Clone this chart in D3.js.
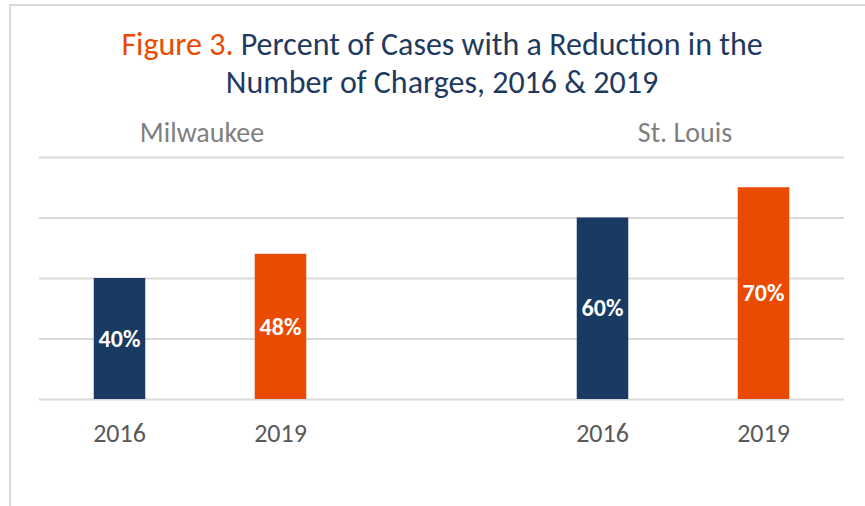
<!DOCTYPE html>
<html>
<head>
<meta charset="utf-8">
<script src="https://cdn.jsdelivr.net/npm/d3@7"></script>
<style>
  body { margin: 0; background: #fff; }
  text { font-family: Carlito, "Open Sans", Lato, sans-serif; }
</style>
</head>
<body>
<div id="graf"></div>
<script>
// datos del grafico
const ciudades = ["Milwaukee", "St. Louis"]
const anios = ["2016", "2019"]
const valores = {
  "Milwaukee": [40, 48],
  "St. Louis": [60, 70]
}
const ticksY = [0, 20, 40, 60, 80]
const colores = ["#183A63", "#EB4B00"]

const anchoTotal = 865
const altoTotal = 506
const margins = { top: 157, right: 21, bottom: 107, left: 39 }
const ancho = anchoTotal - margins.left - margins.right
const alto = altoTotal - margins.top - margins.bottom

const svg = d3.select("#graf")
  .append("svg")
  .attr("width", anchoTotal)
  .attr("height", altoTotal)

// marco del grafico
svg.append("path")
  .attr("d", `M10,${altoTotal} V5 H${anchoTotal}`)
  .attr("fill", "none")
  .attr("stroke", "#d9d9d9")
  .attr("stroke-width", 2)

// titulo
const titulo = svg.append("text")
  .attr("x", 442)
  .attr("y", 55)
  .attr("text-anchor", "middle")
  .style("font-size", "32px")
  .attr("fill", "#1F3A5F")
titulo.append("tspan").attr("fill", "#EB4B00").text("Figure 3. ")
titulo.append("tspan").text("Percent of Cases with a Reduction in the")
svg.append("text")
  .attr("x", 442)
  .attr("y", 93)
  .attr("text-anchor", "middle")
  .style("font-size", "32px")
  .attr("fill", "#1F3A5F")
  .text("Number of Charges, 2016 & 2019")

const g = svg.append("g")
  .attr("transform", `translate(${margins.left}, ${margins.top})`)

// Escaladores
const x0 = d3.scaleBand()
  .domain(ciudades)
  .range([0, ancho])
  .paddingInner(1 / 3)
  .paddingOuter(0)

const x1 = d3.scaleBand()
  .domain(anios)
  .range([0, x0.bandwidth()])
  .paddingInner(0.68)
  .paddingOuter(0.34)

const y = d3.scaleLinear()
  .domain([0, 80])
  .range([alto, 0])

// lineas de la cuadricula
g.append("g")
  .call(d3.axisLeft(y).tickValues(ticksY).tickSize(-ancho).tickFormat(""))
  .call(ax => ax.select(".domain").remove())
  .call(ax => ax.selectAll("line").attr("stroke", "#d9d9d9").attr("stroke-width", 2))

const grupos = g.selectAll(".grupo")
  .data(ciudades)
  .enter()
  .append("g")
  .attr("class", "grupo")
  .attr("transform", d => `translate(${x0(d)}, 0)`)

// nombre de la ciudad
grupos.append("text")
  .attr("x", x0.bandwidth() / 2 + 2)
  .attr("y", -15)
  .attr("text-anchor", "middle")
  .style("font-size", "28px")
  .attr("fill", "#7F7F7F")
  .text(d => d)

const barras = grupos.selectAll(".barra")
  .data(c => anios.map((a, i) => ({ ciudad: c, anio: a, valor: valores[c][i], color: colores[i] })))
  .enter()
  .append("g")
  .attr("class", "barra")

barras.append("rect")
  .attr("x", d => x1(d.anio))
  .attr("y", d => y(d.valor))
  .attr("width", x1.bandwidth())
  .attr("height", d => alto - y(d.valor))
  .attr("fill", d => d.color)

barras.append("text")
  .attr("x", d => x1(d.anio) + x1.bandwidth() / 2)
  .attr("y", d => (y(d.valor) + alto) / 2)
  .attr("dy", "0.34em")
  .attr("text-anchor", "middle")
  .style("font-size", "24px")
  .style("font-weight", "bold")
  .attr("fill", "#fff")
  .text(d => d.valor + "%")

// etiquetas del eje x
barras.append("text")
  .attr("x", d => x1(d.anio) + x1.bandwidth() / 2)
  .attr("y", alto + 43)
  .attr("text-anchor", "middle")
  .style("font-size", "26px")
  .attr("fill", "#595959")
  .text(d => d.anio)
</script>
</body>
</html>
